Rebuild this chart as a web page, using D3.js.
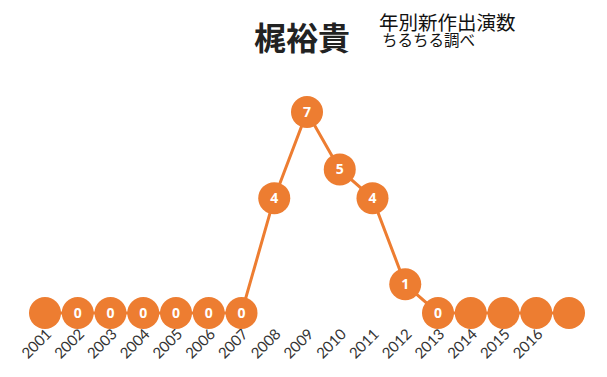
<!DOCTYPE html>
<html><head><meta charset="utf-8">
<script src="https://cdn.jsdelivr.net/npm/d3@7"></script>
<style>body{margin:0;background:#fff}svg{display:block}</style>
</head><body>
<script>
const years = ["2001","2002","2003","2004","2005","2006","2007","2008","2009","2010","2011","2012","2013","2014","2015","2016","2017"];
const tickLabels = ["2001","2002","2003","2004","2005","2006","2007","2008","2009","2010","2011","2012","2013","2014","2015","2016",""];
const values = [0,0,0,0,0,0,0,4,7,5,4,1,0,0,0,0,0];
const pointLabels = ["","0","0","0","0","0","0","4","7","5","4","1","0","","","",""];
const title = "梶裕貴";
const subtitle1 = "年別新作出演数";
const subtitle2 = "ちるちる調べ";

const W = 607, H = 377, color = "#ED7D31";
const svg = d3.select("body").append("svg").attr("width", W).attr("height", H);

const x = d3.scalePoint().domain(years).range([45, 569]);
const y = d3.scaleLinear().domain([0, 7]).range([313, 112]);

const xAxis = d3.axisBottom(x).tickSize(0).tickFormat((d, i) => tickLabels[i]);
const gx = svg.append("g").attr("transform", "translate(0,335)").call(xAxis);
gx.select(".domain").remove();
gx.selectAll("text")
  .attr("font-family", "Lato, Open Sans, sans-serif")
  .attr("font-size", 15).attr("fill", "#333")
  .attr("text-anchor", "end")
  .attr("x", 0).attr("y", 0).attr("dx", 0).attr("dy", 0)
  .attr("transform", "translate(7,0) rotate(-45)");

svg.append("path").datum(values)
  .attr("fill", "none").attr("stroke", color).attr("stroke-width", 3)
  .attr("d", d3.line().x((d, i) => x(years[i])).y(d => y(d)));

const pts = svg.append("g").selectAll("g").data(values).join("g")
  .attr("transform", (d, i) => `translate(${x(years[i])},${y(d)})`);
pts.append("circle").attr("r", 16).attr("fill", color);
pts.append("text").text((d, i) => pointLabels[i])
  .attr("text-anchor", "middle").attr("dy", "0.36em")
  .attr("font-family", "Open Sans, Liberation Sans, sans-serif")
  .attr("font-weight", "bold").attr("font-size", 14).attr("fill", "#fff");

svg.append("text").text(title).attr("x", 302).attr("y", 50)
  .attr("text-anchor", "middle")
  .attr("font-family", "Noto Sans CJK JP, sans-serif").attr("font-weight", "bold")
  .attr("font-size", 32).attr("fill", "#222");
const sub = svg.append("text")
  .attr("font-family", "Noto Sans CJK JP, sans-serif").attr("fill", "#111");
sub.append("tspan").text(subtitle1).attr("x", 379).attr("y", 30).attr("font-size", 19.5);
sub.append("tspan").text(subtitle2).attr("x", 382).attr("y", 46).attr("font-size", 15.5);
</script>
</body></html>
